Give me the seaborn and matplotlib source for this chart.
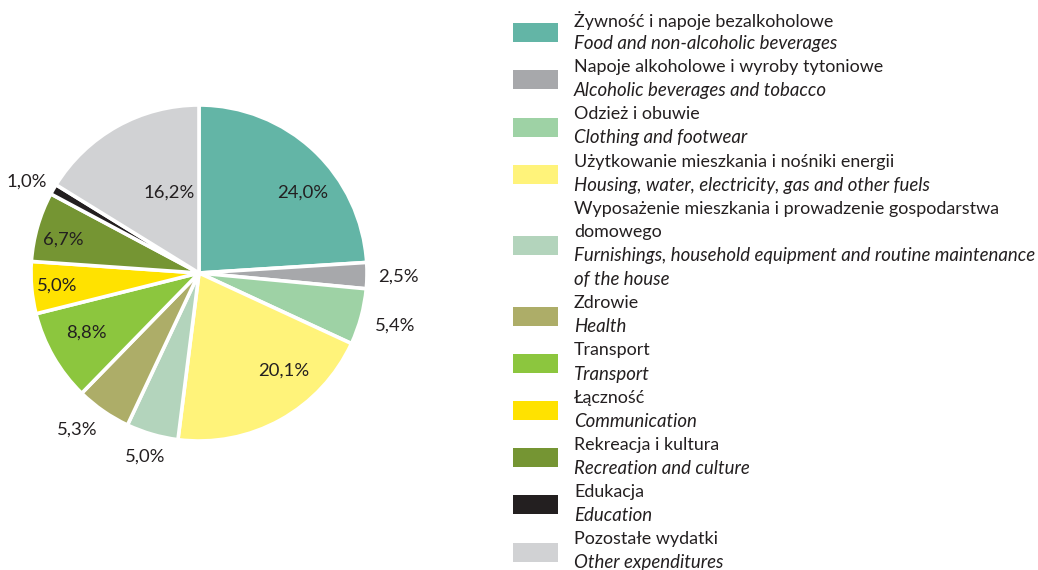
import numpy as np
import matplotlib
matplotlib.use("Agg")
import matplotlib.pyplot as plt
import seaborn as sns
from matplotlib.patches import Rectangle

sns.set_theme(style="white")
plt.rcParams['font.family'] = ['Lato', 'DejaVu Sans']

# ---- data ----
labels_pl = [
    "Żywność i napoje bezalkoholowe",
    "Napoje alkoholowe i wyroby tytoniowe",
    "Odzież i obuwie",
    "Użytkowanie mieszkania i nośniki energii",
    "Wyposażenie mieszkania i prowadzenie gospodarstwa\ndomowego",
    "Zdrowie",
    "Transport",
    "Łączność",
    "Rekreacja i kultura",
    "Edukacja",
    "Pozostałe wydatki",
]
labels_en = [
    "Food and non-alcoholic beverages",
    "Alcoholic beverages and tobacco",
    "Clothing and footwear",
    "Housing, water, electricity, gas and other fuels",
    "Furnishings, household equipment and routine maintenance\nof the house",
    "Health",
    "Transport",
    "Communication",
    "Recreation and culture",
    "Education",
    "Other expenditures",
]
shares = [24.0, 2.5, 5.4, 20.1, 5.0, 5.3, 8.8, 5.0, 6.7, 1.0, 16.2]
colors = ["#63b5a6", "#a7a8ab", "#9ed2a5", "#fff37a", "#b3d4bc", "#adad68",
          "#8cc63e", "#ffe200", "#759533", "#231f20", "#d1d2d4"]

# label placement style: (inside?, radius factor, angle shift in degrees)
label_style = [
    (True, 0.78, -9), (False, 1.19, 0), (False, 1.21, 0), (True, 0.77, 12),
    (False, 1.14, 0), (False, 1.18, -3), (True, 0.76, -2), (True, 0.85, 0),
    (True, 0.83, 2), (False, 1.16, 2), (True, 0.51, -9),
]

TXT = "#231f20"
W, H = 1038, 570
fig = plt.figure(figsize=(W / 100, H / 100), dpi=100)

cx, cy, R = 199, 273, 168
ax = fig.add_axes([(cx - R) / W, (H - cy - R) / H, 2 * R / W, 2 * R / H])
wedges, _ = ax.pie(shares, colors=colors, startangle=90, counterclock=False,
                   radius=1.0, wedgeprops=dict(edgecolor="white", linewidth=2.6))
ax.set_xlim(-1, 1)
ax.set_ylim(-1, 1)
ax.set_aspect("equal")
ax.axis("off")

for w, v, (inside, rf, shift) in zip(wedges, shares, label_style):
    mid = np.deg2rad((w.theta1 + w.theta2) / 2 + shift)
    x, y = rf * np.cos(mid), rf * np.sin(mid)
    ax.text(x, y, f"{v:.1f}%".replace(".", ","), ha="center", va="center",
            fontsize=13.3, color=TXT, clip_on=False)

# ---- legend ----
fs = 12.9
fs_it = 13.4
line = 23.6
y = 20
for pl, en, col in zip(labels_pl, labels_en, colors):
    pl_lines = pl.split("\n")
    en_lines = en.split("\n")
    ys = []
    for t in pl_lines:
        fig.text(574 / W, 1 - y / H, t, ha="left", va="center", fontsize=fs, color=TXT)
        ys.append(y)
        y += line
    for t in en_lines:
        fig.text(574 / W, 1 - y / H, t, ha="left", va="center", fontsize=fs_it,
                 color=TXT, style="italic")
        ys.append(y)
        y += line
    yc = (ys[0] + ys[-1]) / 2 + 1
    fig.patches.append(Rectangle((513 / W, 1 - (yc + 9.5) / H), 45 / W, 19 / H,
                                 transform=fig.transFigure, facecolor=col,
                                 edgecolor="none"))

fig.savefig("out.png", dpi=100, facecolor="white")
